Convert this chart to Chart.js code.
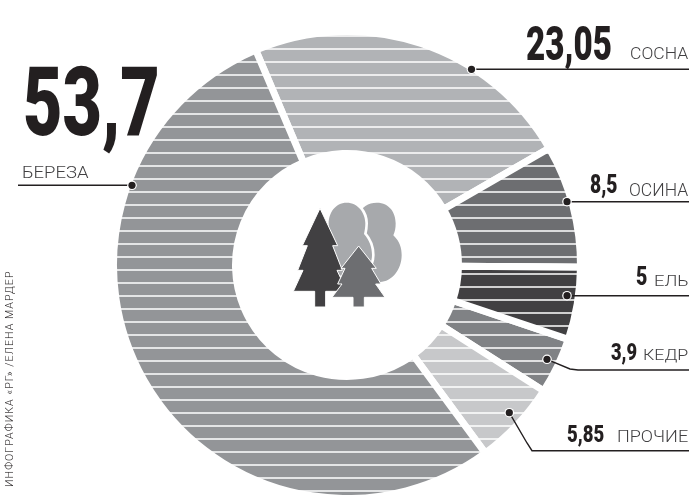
<!DOCTYPE html>
<html>
<head>
<meta charset="utf-8">
<style>
  html, body { margin: 0; padding: 0; background: #fff; }
  #wrap { position: relative; width: 689px; height: 495px; overflow: hidden; }
  #wrap span { position: absolute; white-space: pre; transform-origin: 0 0; color: #231f20; line-height: normal; }
  #wrap span.name { color: #414042; }
</style>
</head>
<body>
<div id="wrap"><canvas id="chart" width="689" height="495"></canvas></div>
<script src="https://cdn.jsdelivr.net/npm/chart.js@4/dist/chart.umd.min.js"></script>
<script>
'use strict';

const categories = ['СОСНА', 'ОСИНА', 'ЕЛЬ', 'КЕДР', 'ПРОЧИЕ', 'БЕРЕЗА'];
const shares = [23.05, 8.5, 5, 3.9, 5.85, 53.7];
const colors = ['#b1b3b6', '#6d6e71', '#414042', '#808285', '#c7c8ca', '#939598'];
const credit = 'ИНФОГРАФИКА «РГ» /ЕЛЕНА МАРДЕР';

const ink = '#231f20';
const numFont = '900 100px Roboto';
const nameFont = '300 100px Roboto';

// x, right edge and top/bottom of the caps for each number and name
const numBoxes = [
    [527, 611, 25, 60], [591, 617, 175, 193], [637, 647, 267, 285],
    [611, 636, 343, 360], [568, 604, 425, 442], [25, 157, 65, 135]
];
const nameBoxes = [
    [631, 688, 47, 59], [630, 688, 183, 196], [656, 688, 275, 286],
    [645, 688, 349, 360], [619, 688, 430, 442], [23, 88, 166, 178]
];
// callout paths, dot first
const leaders = [
    [[471.5, 69.3], [689, 69.3]],
    [[567, 201.7], [689, 201.7]],
    [[567, 295.7], [689, 295.7]],
    [[547, 359.3], [570, 369], [578, 370], [689, 370]],
    [[509.3, 412.7], [527, 443], [532, 450.7], [689, 450.7]],
    [[132, 185.3], [18, 185.3]]
];

function treePath(ctx, pts) {
    ctx.beginPath();
    pts.forEach((p, i) => i ? ctx.lineTo(p[0], p[1]) : ctx.moveTo(p[0], p[1]));
    ctx.closePath();
    ctx.fill();
    ctx.stroke();
}

function drawIcon(ctx) {
    ctx.save();
    ctx.translate(230, 160);
    ctx.scale(1 / 3, 1 / 3);
    ctx.strokeStyle = '#fff';
    ctx.lineWidth = 4;
    ctx.lineJoin = 'miter';

    // back leaf tree
    ctx.fillStyle = '#a7a9ac';
    ctx.beginPath();
    ctx.moveTo(440, 128);
    ctx.bezierCurveTo(480, 128, 497, 160, 497, 190);
    ctx.bezierCurveTo(497, 205, 495, 215, 490, 226);
    ctx.bezierCurveTo(510, 245, 515, 265, 515, 285);
    ctx.bezierCurveTo(515, 330, 485, 365, 450, 366);
    ctx.lineTo(380, 366);
    ctx.lineTo(380, 170);
    ctx.bezierCurveTo(395, 140, 415, 128, 440, 128);
    ctx.closePath();
    ctx.fill();

    // front leaf tree, white gap round it
    ctx.beginPath();
    ctx.moveTo(350, 128);
    ctx.bezierCurveTo(385, 128, 406, 160, 406, 190);
    ctx.bezierCurveTo(406, 203, 404, 213, 402, 222);
    ctx.bezierCurveTo(418, 240, 426, 262, 426, 285);
    ctx.bezierCurveTo(426, 320, 400, 352, 350, 352);
    ctx.bezierCurveTo(320, 352, 296, 320, 296, 190);
    ctx.bezierCurveTo(296, 160, 315, 128, 350, 128);
    ctx.closePath();
    ctx.lineWidth = 16;
    ctx.stroke();
    ctx.fill();
    ctx.lineWidth = 3;

    ctx.fillStyle = '#414042';
    treePath(ctx, [[270, 145], [217, 257], [232, 257], [203, 331], [219, 331], [190, 394],
        [254, 394], [254, 441], [287, 441], [287, 394], [351, 394], [321, 331], [337, 331],
        [308, 257], [323, 257]]);

    ctx.fillStyle = '#6d6e71';
    treePath(ctx, [[386, 258], [333, 325], [345, 325], [323, 372], [336, 372], [306, 412],
        [369, 412], [369, 441], [403, 441], [403, 412], [465, 412], [437, 372], [453, 372],
        [425, 325], [439, 325]]);
    ctx.restore();
}

const stripesPlugin = {
    id: 'stripes',
    afterDatasetsDraw(chart) {
        const ctx = chart.ctx;
        const meta = chart.getDatasetMeta(0);
        const hLines = (from) => {
            ctx.strokeStyle = '#fff';
            ctx.lineWidth = 1.3;
            ctx.beginPath();
            for (let y = from; y < 495; y += 13) {
                ctx.moveTo(100, y);
                ctx.lineTo(600, y);
            }
            ctx.stroke();
        };
        ctx.save();
        hLines(10);

        // the ЕЛЬ slice has its stripes shifted, repaint it and redo them
        const el = meta.data[categories.indexOf('ЕЛЬ')];
        el.draw(ctx);
        ctx.beginPath();
        ctx.arc(el.x, el.y, el.outerRadius + 10, el.startAngle, el.endAngle);
        ctx.arc(el.x, el.y, el.innerRadius, el.endAngle, el.startAngle, true);
        ctx.closePath();
        ctx.clip();
        hLines(14);
        ctx.restore();

        drawIcon(ctx);

        leaders.forEach(path => {
            ctx.strokeStyle = ink;
            ctx.lineWidth = 1.4;
            ctx.beginPath();
            path.forEach((p, i) => i ? ctx.lineTo(p[0], p[1]) : ctx.moveTo(p[0], p[1]));
            ctx.stroke();
            ctx.beginPath();
            ctx.arc(path[0][0], path[0][1], 4.8, 0, Math.PI * 2);
            ctx.fillStyle = '#fff';
            ctx.fill();
            ctx.beginPath();
            ctx.arc(path[0][0], path[0][1], 3.6, 0, Math.PI * 2);
            ctx.fillStyle = ink;
            ctx.fill();
        });
    }
};

new Chart(document.getElementById('chart'), {
    type: 'doughnut',
    data: {
        labels: categories,
        datasets: [{
            data: shares,
            backgroundColor: colors,
            borderColor: '#fff',
            borderWidth: 7
        }]
    },
    options: {
        responsive: false,
        animation: false,
        rotation: -23,
        radius: 233.5,
        cutout: '47.75%',
        layout: { padding: { left: 5, top: 35 } },
        plugins: { legend: { display: false }, tooltip: { enabled: false } }
    },
    plugins: [stripesPlugin]
});

// text goes on top as html, fitted to the box
const measure = document.createElement('canvas').getContext('2d');
function place(text, font, box, cls) {
    const [x0, x1, top, bottom] = box;
    measure.font = font;
    const m = measure.measureText(text);
    const size = 100 * (bottom - top) / m.actualBoundingBoxAscent;
    const k = size / 100;
    const sx = (x1 - x0) / ((m.actualBoundingBoxRight + m.actualBoundingBoxLeft) * k);
    const span = document.createElement('span');
    span.textContent = text;
    span.className = cls;
    span.style.font = font.replace('100px', size.toFixed(2) + 'px');
    span.style.left = (x0 + m.actualBoundingBoxLeft * k * sx) + 'px';
    span.style.top = (bottom - m.fontBoundingBoxAscent * k) + 'px';
    span.style.transform = 'scaleX(' + sx.toFixed(3) + ')';
    document.getElementById('wrap').appendChild(span);
}

shares.forEach((v, i) => {
    place(String(v).replace('.', ','), numFont, numBoxes[i], 'num');
    place(categories[i], nameFont, nameBoxes[i], 'name');
});

const side = document.createElement('span');
side.textContent = credit;
side.style.font = '300 10.6px Roboto';
side.style.letterSpacing = '1.05px';
side.style.left = '3px';
side.style.top = '487px';
side.style.transform = 'rotate(-90deg)';
document.getElementById('wrap').appendChild(side);
</script>
</body>
</html>
